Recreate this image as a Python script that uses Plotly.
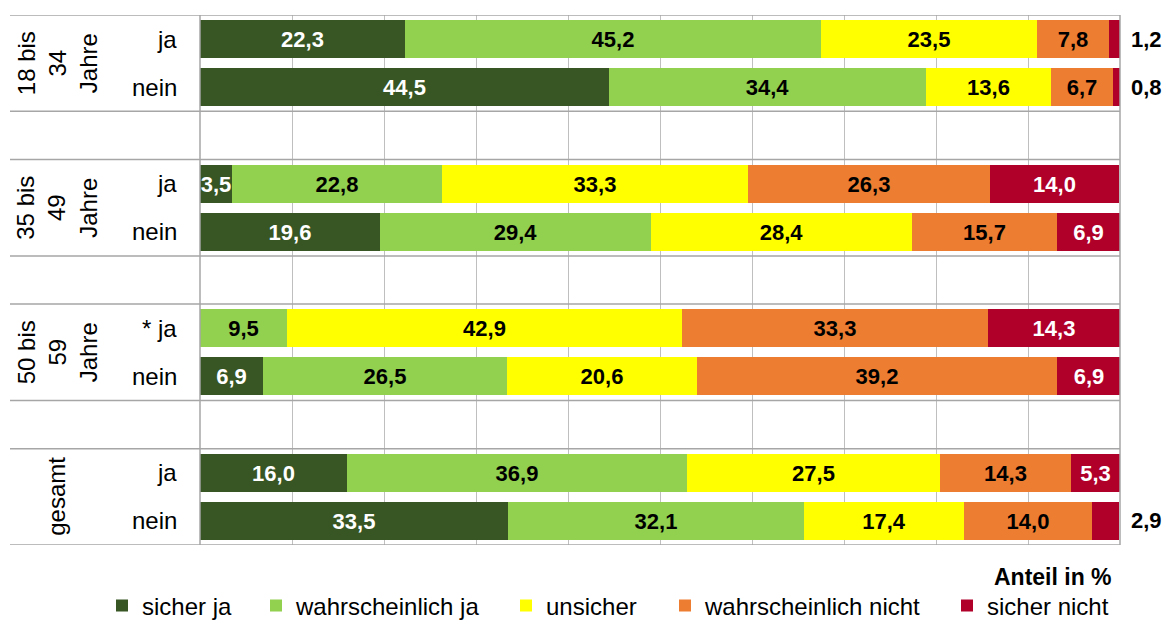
import plotly.graph_objects as go

# Survey answers by age group and prior answer (shares in %)
group_labels = ["18 bis<br>34<br>Jahre", "35 bis<br>49<br>Jahre", "50 bis<br>59<br>Jahre", "gesamt"]
row_labels = ["ja", "nein", "ja", "nein", "* ja", "nein", "ja", "nein"]

series_names = ["sicher ja", "wahrscheinlich ja", "unsicher", "wahrscheinlich nicht", "sicher nicht"]
sicher_ja = [22.3, 44.5, 3.5, 19.6, 0.0, 6.9, 16.0, 33.5]
wahrscheinlich_ja = [45.2, 34.4, 22.8, 29.4, 9.5, 26.5, 36.9, 32.1]
unsicher = [23.5, 13.6, 33.3, 28.4, 42.9, 20.6, 27.5, 17.4]
wahrscheinlich_nicht = [7.8, 6.7, 26.3, 15.7, 33.3, 39.2, 14.3, 14.0]
sicher_nicht = [1.2, 0.8, 14.0, 6.9, 14.3, 6.9, 5.3, 2.9]

series_values = [sicher_ja, wahrscheinlich_ja, unsicher, wahrscheinlich_nicht, sicher_nicht]
series_colors = ["#375623", "#92D050", "#FFFF00", "#ED7D31", "#B0002A"]
label_colors = ["white", "black", "black", "black", "white"]

FONT = "Liberation Sans, Arial, sans-serif"
L, R, T, B = 200, 46, 15, 79
W, H = 1166, 624
PLOT_W = W - L - R
PLOT_H = H - T - B

# each group has two rows plus an empty spacer row
ypos = [(i // 2) * 3 + (i % 2) for i in range(len(row_labels))]


def fmt(v):
    return f"{v:.1f}".replace(".", ",")


def px_x(p):
    return (p - L) / PLOT_W


def px_y(p):
    return (H - B - p) / PLOT_H


fig = go.Figure()
legend_px = [118, 272, 522, 681, 963]
for k, (name, vals) in enumerate(zip(series_names, series_values)):
    texts = []
    for v in vals:
        if v <= 0 or (k == len(series_names) - 1 and v < 3):
            texts.append("")
        else:
            texts.append(fmt(v))
    lg = "legend" if k == 0 else f"legend{k + 1}"
    fig.add_trace(go.Bar(
        y=ypos, x=vals, orientation="h", name=name,
        marker=dict(color=series_colors[k], line=dict(width=0)),
        width=0.79,
        text=texts, textposition="inside", insidetextanchor="middle",
        constraintext="none", textangle=0,
        textfont=dict(family=FONT, size=22, color=label_colors[k], weight="bold"),
        hoverinfo="skip", legend=lg,
    ))

# small "sicher nicht" shares written beside the bar end
for i, v in enumerate(sicher_nicht):
    if v < 3:
        fig.add_annotation(x=1, xref="paper", y=ypos[i], yref="y", text=fmt(v),
                           xanchor="left", xshift=9, showarrow=False,
                           font=dict(family=FONT, size=22, color="black", weight="bold"))

# row labels (ja / nein)
for i, lab in enumerate(row_labels):
    fig.add_annotation(x=px_x(179), xref="paper", y=ypos[i], yref="y", text=lab,
                       xanchor="right", showarrow=False,
                       font=dict(family=FONT, size=24, color="black"))

# rotated group labels
for g, lab in enumerate(group_labels):
    fig.add_annotation(x=px_x(57), xref="paper", y=g * 3 + 0.5, yref="y", text=lab,
                       textangle=-90, showarrow=False, align="center",
                       xanchor="center", yanchor="middle",
                       font=dict(family=FONT, size=24, color="black"))

# table frame: horizontal separators and borders
line_col = "#A6A6A6"
for yb in [-0.5, 1.5, 2.5, 4.5, 5.5, 7.5, 8.5, 10.5]:
    fig.add_shape(type="line", xref="paper", yref="y", x0=px_x(10), x1=1, y0=yb, y1=yb,
                  line=dict(color=line_col, width=1.5))
for xb in [0, 1]:
    fig.add_shape(type="line", xref="paper", yref="paper", x0=xb, x1=xb, y0=0, y1=1,
                  line=dict(color=line_col, width=1.5))

fig.add_annotation(x=px_x(1114), xref="paper", y=px_y(577), yref="paper", text="Anteil in %",
                   xanchor="right", yanchor="middle", showarrow=False,
                   font=dict(family=FONT, size=23, color="black", weight="bold"))

legend_common = dict(orientation="h", yanchor="middle", y=px_y(606), xanchor="left",
                     font=dict(family=FONT, size=24, color="black"),
                     bgcolor="rgba(0,0,0,0)", borderwidth=0, itemclick=False)
layout_legends = {}
for k, p in enumerate(legend_px):
    key = "legend" if k == 0 else f"legend{k + 1}"
    layout_legends[key] = dict(legend_common, x=px_x(p - 16))

fig.update_layout(
    width=W, height=H,
    margin=dict(l=L, r=R, t=T, b=B, pad=0, autoexpand=False),
    barmode="stack", bargap=0,
    plot_bgcolor="white", paper_bgcolor="white",
    separators=",.",
    showlegend=True,
    xaxis=dict(range=[0, 100], dtick=10, showgrid=True, gridcolor="#BFBFBF", gridwidth=1,
               showticklabels=False, zeroline=False, showline=False, ticks=""),
    yaxis=dict(range=[10.5, -0.5], showticklabels=False, showgrid=False, zeroline=False,
               showline=False, ticks=""),
    **layout_legends,
)

fig.write_html("out.html")
